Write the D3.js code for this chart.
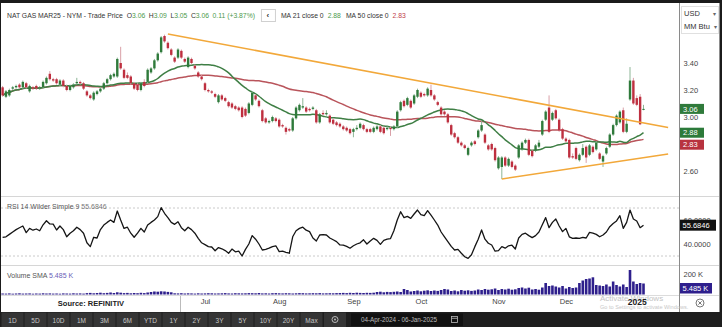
<!DOCTYPE html>
<html>
<head>
<meta charset="utf-8">
<script src="https://cdn.jsdelivr.net/npm/d3@7"></script>
<style>
  html, body { margin: 0; padding: 0; background: #1b1b1b; }
  svg { display: block; font-family: "Liberation Sans", Arial, sans-serif; }
</style>
</head>
<body>
<svg id="chart" width="722" height="327"></svg>
<script>
// ---- Trading calendar (NYMEX sessions) ----
const firstDay = "2024-04-04";
const lastDay = "2025-01-06";
const holidays = ["2024-05-27", "2024-06-19", "2024-07-04", "2024-09-02", "2024-11-28", "2024-12-25", "2025-01-01"];

// ---- Daily OHLC, NAT GAS MAR25 (USD / MM Btu) ----
const open = [
  3.22,3.15,3.16,3.21,3.22,3.24,3.22,3.25,3.19,3.22, 3.23,3.21,3.22,3.25,3.32,3.28,3.28,3.24,3.27,3.23,
  3.20,3.22,3.25,3.26,3.25,3.19,3.16,3.13,3.17,3.19, 3.21,3.25,3.28,3.30,3.30,3.40,3.35,3.31,3.30,3.25,
  3.24,3.20,3.26,3.26,3.33,3.36,3.42,3.48,3.60,3.55, 3.50,3.44,3.44,3.49,3.43,3.37,3.43,3.38,3.33,3.30,
  3.25,3.20,3.19,3.17,3.11,3.16,3.14,3.11,3.10,3.08, 3.07,3.07,3.06,3.03,3.09,3.16,3.12,3.05,2.99,2.96,
  2.97,2.99,2.98,2.94,2.92,2.91,2.90,2.99,3.05,3.07, 3.07,3.06,3.06,3.05,2.96,3.03,3.02,3.01,2.98,2.96,
  2.95,2.93,2.92,2.91,2.89,2.91,2.92,2.94,2.91,2.91, 2.89,2.91,2.93,2.92,2.91,2.92,2.91,2.93,3.05,3.12,
  3.09,3.12,3.10,3.15,3.18,3.17,3.16,3.20,3.16,3.11, 3.07,3.04,3.02,2.94,2.88,2.85,2.81,2.79,2.72,2.79,
  2.82,2.85,2.90,2.87,2.79,2.80,2.77,2.62,2.63,2.70, 2.64,2.67,2.64,2.70,2.76,2.81,2.83,2.75,2.75,2.78,
  2.87,2.98,3.07,2.98,3.05,2.98,2.91,2.84,2.83,2.71, 2.77,2.68,2.72,2.78,2.72,2.78,2.76,2.73,2.67,2.73,
  2.78,2.87,2.94,2.96,3.05,2.89,3.13,3.27,3.14,3.15, 3.06
];
const high = [
  3.23,3.20,3.21,3.23,3.24,3.25,3.27,3.26,3.24,3.23, 3.24,3.23,3.27,3.30,3.34,3.29,3.29,3.28,3.28,3.24,
  3.24,3.25,3.29,3.27,3.26,3.20,3.17,3.19,3.20,3.22, 3.26,3.29,3.32,3.33,3.44,3.52,3.36,3.33,3.31,3.26,
  3.25,3.26,3.28,3.36,3.37,3.43,3.48,3.60,3.61,3.56, 3.51,3.45,3.51,3.50,3.44,3.45,3.44,3.39,3.34,3.31,
  3.26,3.21,3.20,3.18,3.17,3.17,3.15,3.12,3.11,3.09, 3.08,3.08,3.07,3.11,3.19,3.17,3.13,3.06,3.00,2.98,
  3.01,3.00,2.99,2.95,2.93,2.92,3.00,3.08,3.10,3.14, 3.08,3.07,3.08,3.06,3.03,3.05,3.05,3.02,2.99,2.97,
  2.96,2.94,2.93,2.92,2.92,2.94,2.96,2.95,2.92,2.92, 2.93,2.94,2.94,2.93,2.93,2.93,2.94,3.05,3.12,3.13,
  3.15,3.13,3.17,3.21,3.19,3.18,3.22,3.24,3.17,3.12, 3.08,3.05,3.03,2.95,2.89,2.86,2.82,2.80,2.78,2.82,
  2.83,2.91,2.97,2.88,2.80,2.81,2.78,2.71,2.71,2.71, 2.70,2.68,2.65,2.80,2.82,2.84,2.84,2.76,2.80,2.83,
  2.98,3.05,3.16,3.04,3.06,2.99,2.92,2.85,2.84,2.73, 2.78,2.73,2.80,2.79,2.80,2.79,2.82,2.74,2.72,2.78,
  2.88,2.95,3.02,3.05,3.07,2.99,3.37,3.29,3.16,3.17, 3.09
];
const low = [
  3.15,3.14,3.15,3.20,3.21,3.21,3.21,3.21,3.18,3.20, 3.20,3.20,3.21,3.24,3.27,3.26,3.24,3.23,3.22,3.19,
  3.19,3.21,3.24,3.24,3.20,3.15,3.13,3.12,3.16,3.18, 3.20,3.24,3.27,3.29,3.29,3.35,3.28,3.28,3.24,3.20,
  3.19,3.19,3.22,3.25,3.32,3.35,3.41,3.47,3.55,3.50, 3.45,3.40,3.43,3.43,3.40,3.36,3.39,3.35,3.29,3.27,
  3.19,3.18,3.17,3.14,3.10,3.12,3.11,3.07,3.06,3.05, 3.04,2.99,3.00,3.02,3.08,3.12,3.07,2.96,2.95,2.95,
  2.96,2.96,2.92,2.92,2.87,2.89,2.89,2.98,3.04,3.06, 3.03,3.04,3.05,2.95,2.95,3.01,3.01,2.95,2.94,2.93,
  2.92,2.90,2.89,2.87,2.85,2.90,2.91,2.90,2.88,2.88, 2.88,2.90,2.88,2.87,2.90,2.86,2.90,2.92,3.04,3.07,
  3.08,3.06,3.09,3.14,3.14,3.15,3.15,3.15,3.12,3.08, 3.01,3.01,2.95,2.86,2.84,2.80,2.78,2.76,2.71,2.78,
  2.79,2.84,2.89,2.80,2.75,2.75,2.67,2.61,2.54,2.63, 2.63,2.62,2.60,2.69,2.75,2.80,2.71,2.70,2.74,2.77,
  2.86,2.97,2.88,2.97,2.98,2.89,2.83,2.81,2.69,2.69, 2.68,2.67,2.71,2.66,2.71,2.73,2.75,2.68,2.63,2.72,
  2.77,2.86,2.93,2.95,2.88,2.88,3.12,3.09,3.08,2.94, 3.05
];
const close = [
  3.16,3.19,3.20,3.22,3.23,3.22,3.26,3.22,3.23,3.21, 3.21,3.22,3.26,3.29,3.28,3.27,3.25,3.27,3.23,3.20,
  3.23,3.24,3.26,3.25,3.21,3.16,3.14,3.18,3.19,3.21, 3.25,3.28,3.31,3.32,3.43,3.36,3.29,3.29,3.25,3.21,
  3.20,3.25,3.23,3.35,3.36,3.42,3.47,3.59,3.56,3.51, 3.46,3.41,3.50,3.44,3.41,3.44,3.40,3.36,3.30,3.28,
  3.20,3.19,3.18,3.15,3.16,3.13,3.12,3.08,3.07,3.06, 3.05,3.00,3.01,3.10,3.18,3.13,3.08,2.97,2.96,2.97,
  3.00,2.97,2.93,2.93,2.89,2.90,2.99,3.07,3.09,3.08, 3.04,3.05,3.07,2.96,3.02,3.02,3.03,2.96,2.95,2.94,
  2.93,2.91,2.90,2.88,2.91,2.92,2.95,2.91,2.89,2.89, 2.92,2.93,2.89,2.88,2.92,2.91,2.93,3.04,3.11,3.08,
  3.14,3.07,3.16,3.20,3.15,3.16,3.21,3.16,3.13,3.09, 3.02,3.02,2.96,2.87,2.85,2.81,2.79,2.77,2.77,2.81,
  2.80,2.90,2.94,2.81,2.76,2.76,2.68,2.70,2.70,2.64, 2.69,2.63,2.61,2.79,2.81,2.83,2.72,2.71,2.79,2.81,
  2.97,3.04,2.89,3.03,2.99,2.90,2.84,2.82,2.70,2.70, 2.69,2.72,2.77,2.70,2.79,2.74,2.81,2.69,2.71,2.77,
  2.87,2.94,3.01,3.04,2.89,2.95,3.27,3.10,3.09,2.946, 3.06
];

// ---- RSI 14 (Wilder) ----
const rsi = [
  45.5,46,48,50,52,53.5,55,49.5,53,51.5, 52.5,51,56,59.4,56.7,56.5,51.7,55,52,46,
  49,51,54,52,49,41,37.8,45.6,45,52, 55.8,58,60,58,67.5,60,53,54,49,45.6,
  49,53,50,55.8,58,60,62.8,70.3,65.6,62, 58,56.4,58.5,53.6,51,54,52,49,44.7,41,
  39.5,37.8,37.5,34.4,37,36,34.5,32.3,35.8,33.5, 34,30,35.5,40,47,44,40,35,35.5,36.5,
  37.8,38.5,33.6,34,33,32.3,46,51,53,54, 51.5,50.3,45,42.5,47.5,47.8,47.5,45,43.5,42,
  39.2,39,38,36.5,38.5,40,41,43.5,40,42.5, 44.7,43,39.7,43,44,44.5,51,60,66.9,62,
  63,61.4,65,68.3,64.5,63.6,67.8,64,60,55.8, 50,46,42,38,35,35.5,32.3,29.4,28,31,
  37.8,44,51.7,44,40.6,39.2,34,34.5,37.8,36.5, 38.5,39,35.8,45,48,49,47,45.3,47,50,
  56,62,53.6,58,60.8,55,50.3,53,46,44.7, 45,44.7,45.5,45,49.7,49,48,46,47.5,50,
  54.4,57,59.2,63.6,53,58,68.3,60.8,59.2,53.6, 55.6846
];

// ---- Volume (thousands of contracts) ----
const volume = [
  10,9,11,8,10,12,9,10,11,8, 10,9,12,10,11,9,10,8,11,10, 9,12,10,11,9,
  14,16,12,15,18,13,16,20,15,22, 18,14,16,12,15,13,17,14,20,
  25,30,28,32,30,26,22,
  12,11,13,10,12,11,9,12,10,11, 13,12,10,11,12,14,11,10,13,12, 11,12,14,13,12,15,11,12,10,13,
  14,12,11,13,12,10,12,14,13,11, 12,13,12,14,11,12,13,12,14,
  15,16,14,17,15,18,16,15,17,16,18,
  25,28,22,26,24,27,30,25,
  55,45,30,
  35,40,32,38,42,35,40,36,45,
  55,50,
  35,40,32,45,38,42,36,40,
  50,45,55,48,52,60,45,55,50,58,48,52,
  65,70,60,68,
  50,55,48,
  70,115,
  85,90,80,
  70,85,60,75,65,
  70,115,140,155,160,172,95,90,85,100, 80,130,95,80,100,75,245,130,105,115, 110
];

// ---- Trend lines: [session index, price] ----
const upperTrend = [[49, 3.615], [197.3, 2.922]];
const lowerTrend = [[148, 2.541], [197.3, 2.726]];

// ---- Axis ticks and labels ----
const priceTicks = [2.6, 2.8, 3.0, 3.2, 3.4];
const rsiTicks = [60, 40];
const rsiGuides = [70, 30];
const volumeTicks = [200];
const monthStarts = ["2024-07", "2024-08", "2024-09", "2024-10", "2024-11", "2024-12", "2025-01"];
const monthLabels = ["Jul", "Aug", "Sep", "Oct", "Nov", "Dec", "2025"];
const rangeButtons = ["1D", "5D", "10D", "1M", "3M", "6M", "YTD", "1Y", "2Y", "3Y", "5Y", "10Y", "20Y", "Max"];
const volumeSmaText = "5.485 K";

// ---- Build session dates ----
const parseDay = d3.utcParse("%Y-%m-%d");
const fmtDay = d3.utcFormat("%Y-%m-%d");
const fmtMonth = d3.utcFormat("%Y-%m");
const holidaySet = new Set(holidays);
const dates = d3.utcDay.range(parseDay(firstDay), d3.utcDay.offset(parseDay(lastDay), 1))
  .filter(d => d.getUTCDay() % 6 !== 0 && !holidaySet.has(fmtDay(d)));

// ---- Layout ----
const AXIS_X = 679.5;
const PRICE_TOP = 3, PRICE_BOTTOM = 196;
const RSI_BOTTOM = 265;
const VOL_BOTTOM = 294.5;
const XAXIS_BOTTOM = 312;

const svg = d3.select("#chart");

// scales
const n = close.length;
const x = d3.scaleLinear().domain([0, n - 1]).range([2.6, 643.5]);
const y = d3.scaleLinear().domain([2.6, 3.4]).range([171, 63]);
const yR = d3.scaleLinear().domain([30, 70]).range([256, 208]);
const yV = d3.scaleLinear().domain([0, 200]).range([VOL_BOTTOM, 274.5]);

const UP = "#2f7a3b", DOWN = "#be2f3f";
const UP_WICK = "#8db596", DOWN_WICK = "#d9a0a8";
const MA21_C = "#3f7f45", MA50_C = "#b9545b";
const TREND_C = "#f2a83a";

// page frame
svg.append("rect").attr("width", 722).attr("height", 327).attr("fill", "#1b1b1b");
svg.append("rect").attr("x", 1).attr("y", PRICE_TOP).attr("width", 718.5).attr("height", XAXIS_BOTTOM - PRICE_TOP).attr("fill", "#ffffff");

// panel separators
[PRICE_BOTTOM + 0.5, RSI_BOTTOM + 0.5].forEach(v => {
  svg.append("line").attr("x1", 1).attr("x2", 719).attr("y1", v).attr("y2", v)
    .attr("stroke", "#d6d6d6").attr("stroke-width", 1);
});
svg.append("line").attr("x1", 1).attr("x2", 719).attr("y1", 295.5).attr("y2", 295.5)
  .attr("stroke", "#dcdcdc").attr("stroke-width", 1);
svg.append("line").attr("x1", AXIS_X).attr("x2", AXIS_X).attr("y1", PRICE_TOP).attr("y2", XAXIS_BOTTOM)
  .attr("stroke", "#8a8a8a").attr("stroke-width", 1);

// clip for the price plot
const defs = svg.append("defs");
defs.append("clipPath").attr("id", "priceClip").append("rect")
  .attr("x", 1).attr("y", 30).attr("width", AXIS_X - 1.5).attr("height", PRICE_BOTTOM - 30);

const idx = d3.range(n);
const pricePlot = svg.append("g").attr("clip-path", "url(#priceClip)");

// moving averages of the close
function sma(len) {
  return close.map((c, i) => d3.mean(close.slice(Math.max(0, i - len + 1), i + 1)));
}
const ma21 = sma(21), ma50 = sma(50);
const maLine = d3.line().x((d, i) => x(i)).y(d => y(d)).curve(d3.curveMonotoneX);

pricePlot.append("path").datum(ma50).attr("d", maLine)
  .attr("fill", "none").attr("stroke", MA50_C).attr("stroke-width", 1.5);
pricePlot.append("path").datum(ma21).attr("d", maLine)
  .attr("fill", "none").attr("stroke", MA21_C).attr("stroke-width", 1.5);

// candles
pricePlot.selectAll("line.wick").data(idx).join("line").attr("class", "wick")
  .attr("x1", i => x(i)).attr("x2", i => x(i))
  .attr("y1", i => y(high[i])).attr("y2", i => y(low[i]))
  .attr("stroke", i => close[i] >= open[i] ? UP_WICK : DOWN_WICK).attr("stroke-width", 1);
pricePlot.selectAll("rect.body").data(idx).join("rect").attr("class", "body")
  .attr("x", i => x(i) - 1.2).attr("width", 2.4)
  .attr("y", i => y(Math.max(open[i], close[i])))
  .attr("height", i => Math.max(1, Math.abs(y(open[i]) - y(close[i]))))
  .attr("fill", i => close[i] >= open[i] ? UP : DOWN);

// trend lines
const trendLine = d3.line().x(d => x(d[0])).y(d => y(d[1]));
[upperTrend, lowerTrend].forEach(t => {
  pricePlot.append("path").datum(t).attr("d", trendLine)
    .attr("fill", "none").attr("stroke", TREND_C).attr("stroke-width", 1.6);
});

// price axis
const priceAxis = svg.append("g").attr("transform", `translate(${AXIS_X + 4},0)`)
  .call(d3.axisRight(y).tickValues(priceTicks).tickFormat(d3.format(".2f")).tickSize(0).tickPadding(0));
priceAxis.select(".domain").remove();
priceAxis.selectAll("text").attr("fill", "#444").attr("font-size", 7.5).attr("font-family", "Liberation Sans, Arial, sans-serif");

// value flags on the price axis
function flag(yc, w, bg, label, fg = "#fff") {
  const gF = svg.append("g");
  gF.append("rect").attr("x", AXIS_X + 0.5).attr("y", yc - 5).attr("width", w).attr("height", 10).attr("fill", bg);
  gF.append("text").attr("x", AXIS_X + 3.5).attr("y", yc + 2.7).attr("fill", fg)
    .attr("font-size", 7.5).text(label);
}
const f2 = d3.format(".2f");
flag(y(close[n - 1]), 24, UP, f2(close[n - 1]));
flag(y(ma21[n - 1]), 24, "#2c7a3a", f2(ma21[n - 1]));
flag(Math.max(y(ma50[n - 1]), y(ma21[n - 1]) + 12), 24, "#b8333f", f2(ma50[n - 1]));

// currency / unit selector
svg.append("rect").attr("x", 681.5).attr("y", 6.5).attr("width", 37).attr("height", 27)
  .attr("fill", "#fff").attr("stroke", "#e0e0e0");
svg.append("text").attr("x", 684).attr("y", 16).attr("font-size", 7.5).attr("fill", "#333").text("USD");
svg.append("text").attr("x", 713).attr("y", 16).attr("font-size", 6).attr("fill", "#666").text("▾");
svg.append("text").attr("x", 684).attr("y", 29).attr("font-size", 7.5).attr("fill", "#333").text("MM Btu");
svg.append("text").attr("x", 713.5).attr("y", 29).attr("font-size", 6).attr("fill", "#666").text("▾");

// header legend, laid out left to right
const GREEN_T = "#4d9a4d", RED_T = "#c0404a";
const hdr = svg.append("g").attr("font-size", 6.8).attr("fill", "#333");
let cursor = 7;
function hdrText(parts, gapAfter) {
  const t = hdr.append("text").attr("x", cursor).attr("y", 17.5);
  parts.forEach(([s, c]) => t.append("tspan").attr("fill", c || "#333").text(s));
  cursor += t.node().getComputedTextLength() + gapAfter;
  return t;
}
const chg = close[n - 1] - close[n - 2];
hdrText([["NAT GAS MAR25 - NYM - Trade Price"]], 4);
hdrText([["O"], [f2(open[n - 1]), GREEN_T]], 3.5);
hdrText([["H"], [f2(high[n - 1]), GREEN_T]], 3.5);
hdrText([["L"], [f2(low[n - 1]), GREEN_T]], 3.5);
hdrText([["C"], [f2(close[n - 1]), GREEN_T]], 3.5);
hdrText([[`${f2(chg)} (${d3.format("+.2%")(chg / close[n - 2])})`, GREEN_T]], 6);
hdr.append("rect").attr("x", cursor + 0.5).attr("y", 9.5).attr("width", 14).attr("height", 12)
  .attr("fill", "#fff").attr("stroke", "#d0d0d0");
hdr.append("text").attr("x", cursor + 5.5).attr("y", 18).attr("font-size", 8).attr("font-weight", "bold").text("‹");
cursor += 20;
hdrText([["MA 21 close 0"]], 4);
hdrText([[f2(ma21[n - 1]), GREEN_T]], 5);
hdrText([["MA 50 close 0"]], 4);
hdrText([[f2(ma50[n - 1]), RED_T]], 0);

// ---- RSI panel ----
rsiGuides.forEach(v => {
  svg.append("line").attr("x1", 1).attr("x2", AXIS_X - 0.5).attr("y1", yR(v)).attr("y2", yR(v))
    .attr("stroke", "#bdbdbd").attr("stroke-dasharray", "2,2").attr("stroke-width", 0.8);
});
svg.append("path").datum(rsi)
  .attr("d", d3.line().x((d, i) => x(i)).y(d => yR(d)))
  .attr("fill", "none").attr("stroke", "#151515").attr("stroke-width", 1.3).attr("stroke-linejoin", "round");
const rsiAxis = svg.append("g").attr("transform", `translate(${AXIS_X + 4},0)`)
  .call(d3.axisRight(yR).tickValues(rsiTicks).tickFormat(d3.format(".4f")).tickSize(0).tickPadding(0));
rsiAxis.select(".domain").remove();
rsiAxis.selectAll("text").attr("fill", "#444").attr("font-size", 7.5).attr("font-family", "Liberation Sans, Arial, sans-serif");
const lastRsi = rsi[n - 1];
svg.append("rect").attr("x", AXIS_X + 0.5).attr("y", yR(lastRsi) - 5.5).attr("width", 36).attr("height", 11).attr("fill", "#111");
svg.append("text").attr("x", AXIS_X + 3).attr("y", yR(lastRsi) + 2.7).attr("fill", "#fff").attr("font-size", 7.5)
  .text(d3.format(".4f")(lastRsi));
const rsiLbl = svg.append("text").attr("x", 7).attr("y", 208.5).attr("font-size", 7).attr("fill", "#555");
rsiLbl.append("tspan").text("RSI 14 Wilder Simple 9  ");
rsiLbl.append("tspan").attr("fill", "#777").text(d3.format(".4f")(lastRsi));

// ---- Volume panel ----
svg.append("g").selectAll("rect").data(idx).join("rect")
  .attr("x", i => x(i) - 1.3).attr("width", 2.6)
  .attr("y", i => yV(volume[i])).attr("height", i => VOL_BOTTOM - yV(volume[i]))
  .attr("fill", "#2e1f8c");
const volAxis = svg.append("g").attr("transform", `translate(${AXIS_X + 4},0)`)
  .call(d3.axisRight(yV).tickValues(volumeTicks).tickFormat(d => d + " K").tickSize(0).tickPadding(0));
volAxis.select(".domain").remove();
volAxis.selectAll("text").attr("fill", "#444").attr("font-size", 7.5).attr("font-family", "Liberation Sans, Arial, sans-serif");
svg.append("rect").attr("x", AXIS_X + 0.5).attr("y", 283).attr("width", 32).attr("height", 10.5).attr("fill", "#2e1f8c");
svg.append("text").attr("x", AXIS_X + 3).attr("y", 291).attr("fill", "#fff").attr("font-size", 7.5).text(volumeSmaText);
const volLbl = svg.append("text").attr("x", 7).attr("y", 277.5).attr("font-size", 7).attr("fill", "#555");
volLbl.append("tspan").text("Volume SMA  ");
volLbl.append("tspan").attr("fill", "#6a5fb8").text(volumeSmaText);

// ---- Time axis ----
// watermark of the host system (drawn beneath the axis labels)
svg.append("text").attr("x", 600).attr("y", 301).attr("font-size", 8).attr("fill", "#c4c4c4").text("Activate Windows");
svg.append("text").attr("x", 600).attr("y", 309).attr("font-size", 5.6).attr("fill", "#c8c8c8").text("Go to Settings to activate Windows.");

const monthIdx = monthStarts.map(m => dates.findIndex(d => fmtMonth(d) === m));
const timeAxis = svg.append("g").attr("transform", "translate(0,302)")
  .call(d3.axisBottom(x).tickValues(monthIdx).tickFormat((d, k) => monthLabels[k]).tickSize(0).tickPadding(0));
timeAxis.select(".domain").remove();
timeAxis.selectAll("text").attr("fill", "#444").attr("font-size", 7.5).attr("dy", "0.32em")
  .attr("font-family", "Liberation Sans, Arial, sans-serif");
timeAxis.selectAll("text").filter((d, k) => k === monthLabels.length - 1)
  .attr("font-weight", "bold").attr("fill", "#222").attr("font-size", 8.5);

// source box
svg.append("rect").attr("x", 1).attr("y", 296).attr("width", 179).attr("height", 16).attr("fill", "#fff");
svg.append("line").attr("x1", 180.5).attr("x2", 180.5).attr("y1", 296).attr("y2", 312).attr("stroke", "#bbb");
svg.append("text").attr("x", 91).attr("y", 306).attr("text-anchor", "middle").attr("font-size", 7.5)
  .attr("font-weight", "bold").attr("fill", "#222").text("Source: REFINITIV");

// close icon
svg.append("circle").attr("cx", 700).attr("cy", 303).attr("r", 4).attr("fill", "none").attr("stroke", "#666").attr("stroke-width", 0.9);
svg.append("path").attr("d", "M698.3,301.3L701.7,304.7M701.7,301.3L698.3,304.7").attr("stroke", "#666").attr("stroke-width", 0.9);

// ---- Range toolbar ----
svg.append("rect").attr("x", 0).attr("y", XAXIS_BOTTOM).attr("width", 722).attr("height", 327 - XAXIS_BOTTOM).attr("fill", "#1e1e1e");
const btnX = d3.scalePoint().domain(rangeButtons).range([12.5, 311.5]);
const tb = svg.append("g");
tb.selectAll("rect").data(rangeButtons).join("rect")
  .attr("x", d => btnX(d) - 11).attr("y", XAXIS_BOTTOM + 0.5).attr("width", 22).attr("height", 14.5).attr("fill", "#353535");
tb.selectAll("text").data(rangeButtons).join("text")
  .attr("x", d => btnX(d)).attr("y", 322.5).attr("text-anchor", "middle")
  .attr("font-size", 6.5).attr("fill", "#c9c9c9").text(d => d);
tb.append("rect").attr("x", 324).attr("y", XAXIS_BOTTOM + 0.5).attr("width", 22).attr("height", 14.5).attr("fill", "#353535");
tb.append("circle").attr("cx", 335).attr("cy", 319.5).attr("r", 3).attr("fill", "none").attr("stroke", "#bbb").attr("stroke-width", 1);
tb.append("circle").attr("cx", 335).attr("cy", 319.5).attr("r", 1).attr("fill", "#bbb");
tb.append("rect").attr("x", 351).attr("y", XAXIS_BOTTOM + 1.5).attr("width", 112).attr("height", 12.5).attr("fill", "#111");
const fmtRange = d3.utcFormat("%d-%b-%Y");
tb.append("text").attr("x", 361).attr("y", 322.3).attr("font-size", 6.3).attr("fill", "#bdbdbd")
  .text(`${fmtRange(dates[0])}  -  ${fmtRange(dates[n - 1])}`);
tb.append("rect").attr("x", 451.5).attr("y", 316.5).attr("width", 6).attr("height", 6).attr("fill", "none").attr("stroke", "#bbb").attr("stroke-width", 0.8);
tb.append("line").attr("x1", 451.5).attr("x2", 457.5).attr("y1", 318.3).attr("y2", 318.3).attr("stroke", "#bbb").attr("stroke-width", 0.8);
</script>
</body>
</html>
